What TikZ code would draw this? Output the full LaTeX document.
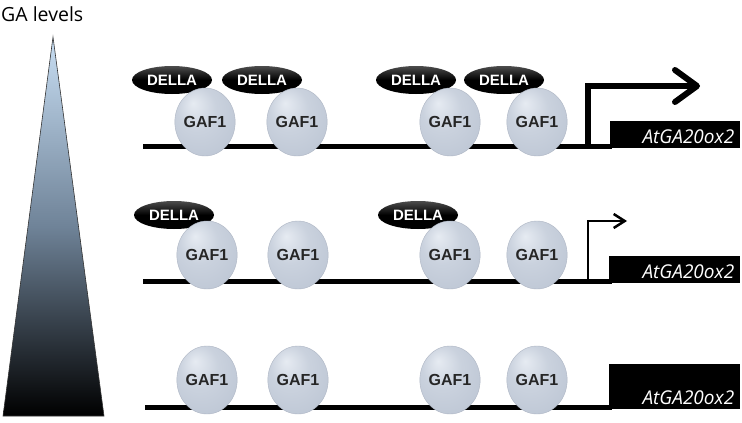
\documentclass[tikz,border=0pt]{standalone}
\usepackage{fontspec}
\setmainfont{Open Sans}
\newfontfamily\arialf{Liberation Sans}
\usetikzlibrary{arrows.meta,shapes.geometric}
\definecolor{gafhi}{HTML}{E6EBF2}
\definecolor{gafmid}{HTML}{BEC7D5}
\definecolor{gaflo}{HTML}{8A96AA}
\definecolor{trihi}{HTML}{C8DEF3}
\definecolor{trimid}{HTML}{6F8398}
\pgfdeclareradialshading{gafball}{\pgfpoint{-10bp}{14bp}}{color(0bp)=(gafhi); color(16bp)=(gafmid!70!gafhi); color(34bp)=(gafmid); color(46bp)=(gafmid!60!gaflo); color(52bp)=(gaflo)}
\tikzset{
  gaf/.style={ellipse, minimum width=57pt, minimum height=68pt, inner sep=0pt, shading=gafball, draw=gaflo!70!white, line width=0.4pt, font=\arialf\bfseries\fontsize{16}{16}\selectfont, text=black!85},
  della/.style={ellipse, minimum width=80pt, minimum height=28pt, inner sep=0pt, top color=black!70, bottom color=black, middle color=black, font=\arialf\bfseries\fontsize{15}{15}\selectfont, text=white},
  dna/.style={line width=5pt},
  genebox/.style={fill=black, draw=none, inner sep=0pt},
  genetext/.style={font=\itshape\fontsize{19}{19}\selectfont, text=white, anchor=base east, inner sep=0pt},
  promstrong/.style={line width=6pt, line join=miter, -{Straight Barb[length=22pt,width=32pt,round]}},
  promweak/.style={line width=2.5pt, line join=miter, -{Straight Barb[length=11pt,width=14pt]}}
}
\begin{document}
\begin{tikzpicture}[x=1pt,y=-1pt]
\useasboundingbox (0,0) rectangle (742,423);
% GA levels
\node[anchor=west, inner sep=0pt, font=\fontsize{19.5}{19.5}\selectfont] (galbl) at (1,14) {GA levels};
\path[top color=trihi, bottom color=black, middle color=trimid, draw=black!80, line width=0.6pt]
  (53,37) coordinate (apex) -- (104,416) coordinate (br) -- (3,416) coordinate (bl) -- cycle;

% ---------- Row 1 ----------
\coordinate (s1) at (143,146);
\coordinate (e1) at (612,146);
\draw[dna] (s1) -- (e1);
\node[genebox, minimum width=130pt, minimum height=27pt, anchor=south west] (box1) at (610,148.5) {};
\node[genetext] (g1) at ([xshift=-6pt,yshift=5pt]box1.south east) {AtGA20ox2};
\coordinate (p1) at (588,146);
\coordinate (q1) at (588,86);
\coordinate (t1) at (700,86);
\draw[promstrong] (p1) -- (q1) -- (t1);
\node[della] (d11) at (172,80) {DELLA};
\node[della] (d12) at (262,80) {DELLA};
\node[della] (d13) at (416,80) {DELLA};
\node[della] (d14) at (504,80) {DELLA};
\node[gaf] (a11) at (205,122) {GAF1};
\node[gaf] (a12) at (297,122) {GAF1};
\node[gaf] (a13) at (450,122) {GAF1};
\node[gaf] (a14) at (537,122) {GAF1};

% ---------- Row 2 ----------
\coordinate (s2) at (143,281);
\coordinate (e2) at (612,281);
\draw[dna] (s2) -- (e2);
\node[genebox, minimum width=131pt, minimum height=27pt, anchor=south west] (box2) at (609,283.5) {};
\node[genetext] (g2) at ([xshift=-6pt,yshift=5pt]box2.south east) {AtGA20ox2};
\coordinate (p2) at (588,281);
\coordinate (q2) at (588,221);
\coordinate (t2) at (627,221);
\draw[promweak] (p2) -- (q2) -- (t2);
\node[della] (d21) at (174,215) {DELLA};
\node[della] (d22) at (418,215) {DELLA};
\node[gaf] (a21) at (207,255) {GAF1};
\node[gaf] (a22) at (298,255) {GAF1};
\node[gaf] (a23) at (450,255) {GAF1};
\node[gaf] (a24) at (537,255) {GAF1};

% ---------- Row 3 ----------
\coordinate (s3) at (145,407);
\coordinate (e3) at (612,407);
\draw[dna] (s3) -- (e3);
\node[genebox, minimum width=131pt, minimum height=45pt, anchor=south west] (box3) at (609,409.5) {};
\node[genetext] (g3) at ([xshift=-6pt,yshift=5pt]box3.south east) {AtGA20ox2};
\node[gaf] (a31) at (207,380) {GAF1};
\node[gaf] (a32) at (298,380) {GAF1};
\node[gaf] (a33) at (450,380) {GAF1};
\node[gaf] (a34) at (537,380) {GAF1};
\end{tikzpicture}
\end{document}
